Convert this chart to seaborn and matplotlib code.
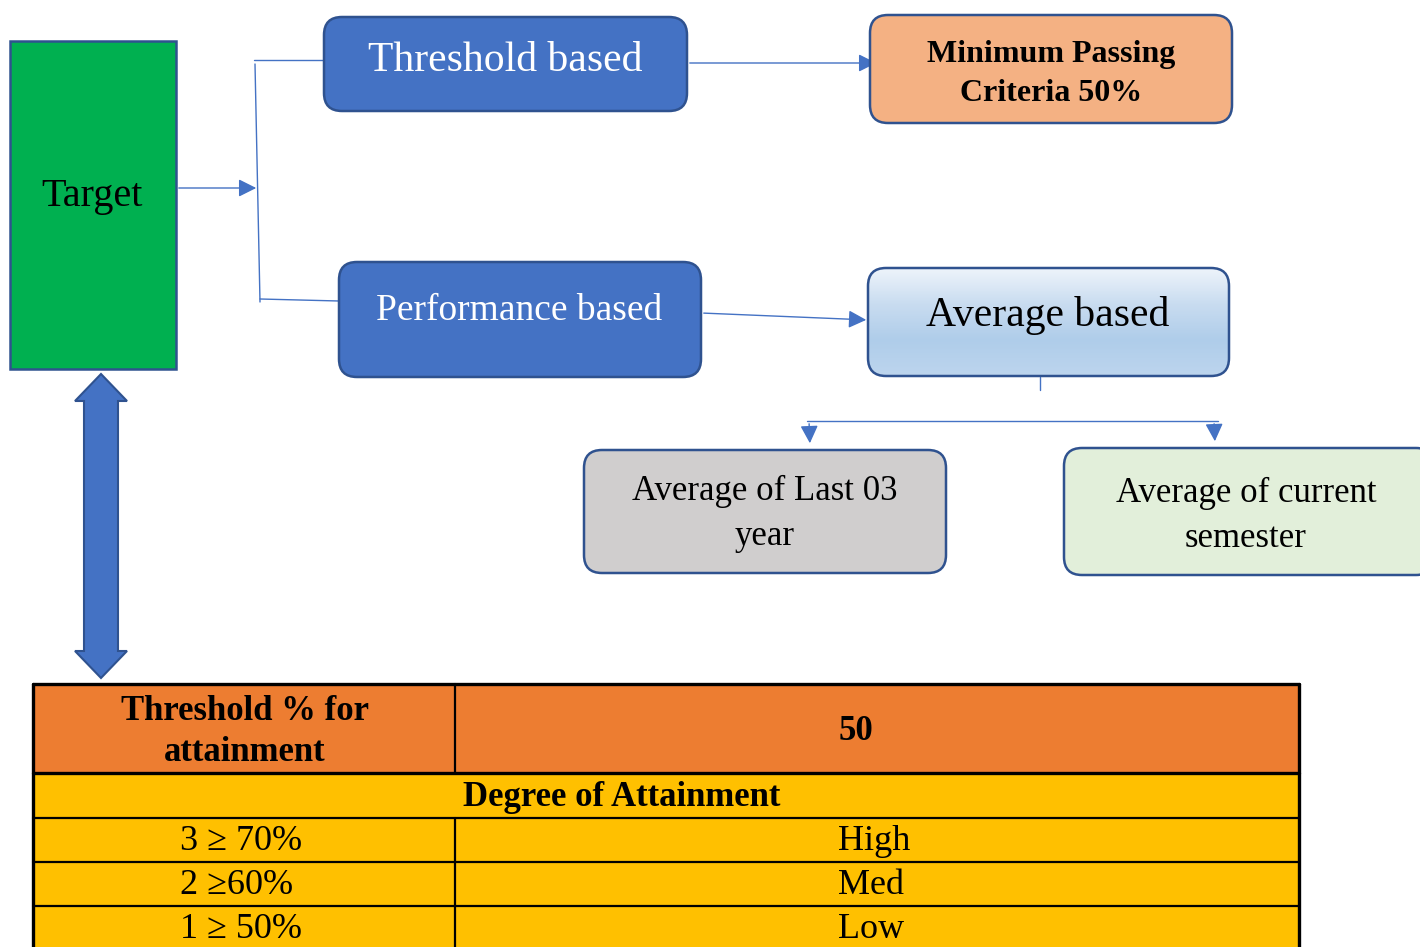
import numpy as np
import seaborn as sns
from matplotlib import pyplot as plt
from matplotlib import patches as mpatches

# flowchart node labels
node_labels = ["Target", "Threshold based", "Minimum Passing\nCriteria 50%",
               "Performance based", "Average based",
               "Average of Last 03\nyear", "Average of current\nsemester"]

# threshold table
header_left = "Threshold % for\nattainment"
header_value = "50"
table_title = "Degree of Attainment"
levels = ["3 \u2265 70%", "2 \u226560%", "1 \u2265 50%"]
degrees = ["High", "Med", "Low"]

sns.set_theme(style="white")
plt.rcParams['font.family'] = ['Liberation Serif', 'DejaVu Serif']
plt.rcParams['text.color'] = 'black'

BLUE = "#4472C4"
EDGE = "#2F528F"

fig = plt.figure(figsize=(14.2, 9.47), dpi=100)
ax = fig.add_axes([0, 0, 1, 1])
ax.set_xlim(0, 1420)
ax.set_ylim(947, 0)
ax.axis('off')

# box layout: x, y, w, h, fill, text colour, size, bold, text x, text y, rounded
layout = {
    "Target": (10, 41, 166, 328, "#00B050", "black", 29, False, 92, 196, False),
    "Threshold based": (324, 17, 363, 94, BLUE, "white", 30, False, 505, 61, True),
    "Minimum Passing\nCriteria 50%": (870, 15, 362, 108, "#F4B183", "black", 23, True, 1051, 74, True),
    "Performance based": (339, 262, 362, 115, BLUE, "white", 27, False, 519, 311, True),
    "Average based": (868, 268, 361, 108, None, "black", 30, False, 1048, 315, True),
    "Average of Last 03\nyear": (584, 450, 362, 123, "#D0CECE", "black", 25, False, 765, 514, True),
    "Average of current\nsemester": (1064, 448, 370, 127, "#E2EFDA", "black", 25, False, 1246, 516, True),
}

for label in node_labels:
    x, y, w, h, fill, tc, fs, bold, tx, ty, rounded = layout[label]
    style = "round,pad=0,rounding_size=18" if rounded else "square,pad=0"
    box = mpatches.FancyBboxPatch((x, y), w, h, boxstyle=style,
                                  facecolor=fill if fill else "none",
                                  edgecolor=EDGE, linewidth=1.8, zorder=3)
    ax.add_patch(box)
    if fill is None:
        grad = np.linspace(0, 1, 256).reshape(-1, 1)
        cmap = sns.blend_palette(["#EEF4FB", "#C9DCF0", "#AFCDEA", "#BDD5EE"], as_cmap=True)
        im = ax.imshow(grad, cmap=cmap, extent=(x, x + w, y + h, y),
                       aspect='auto', zorder=2)
        im.set_clip_path(box)
    ax.text(tx, ty, label, ha='center', va='center', color=tc, fontsize=fs,
            fontweight='bold' if bold else 'normal', linespacing=1.45, zorder=4)

# connectors
line_kw = dict(color=BLUE, linewidth=1.0, zorder=1)
ax.plot([254, 324], [60, 60], **line_kw)
ax.plot([255, 260], [64, 302], **line_kw)
ax.plot([260, 339], [299, 301], **line_kw)
ax.plot([1040, 1040], [377, 390], **line_kw)
ax.plot([807, 1218], [421, 421], **line_kw)

arrow_kw = dict(arrowstyle='-|>,head_length=0.9,head_width=0.45', color=BLUE,
                linewidth=1.0, mutation_scale=12)
for (x0, y0), (x1, y1) in [((176, 188), (259, 188)),
                           ((687, 63), (879, 63)),
                           ((701, 313), (869, 320)),
                           ((809, 421), (810, 446)),
                           ((1214, 421), (1215, 444))]:
    ax.annotate("", xy=(x1, y1), xytext=(x0, y0), arrowprops=arrow_kw, zorder=1)

# double block arrow between Target and the table
cx, top, bot, sw, hw, hl = 101, 374, 678, 17, 26, 27
arrow_pts = [(cx, top), (cx + hw, top + hl), (cx + sw, top + hl), (cx + sw, bot - hl),
             (cx + hw, bot - hl), (cx, bot), (cx - hw, bot - hl), (cx - sw, bot - hl),
             (cx - sw, top + hl), (cx - hw, top + hl)]
ax.add_patch(mpatches.Polygon(arrow_pts, closed=True, facecolor=BLUE,
                              edgecolor=EDGE, linewidth=1.5, zorder=3))

# table
tx0, tx1, tsplit = 33, 1299, 455
rows_y = [684, 773, 818, 862, 906, 950]
ax.add_patch(mpatches.Rectangle((tx0, rows_y[0]), tx1 - tx0, rows_y[1] - rows_y[0],
                                facecolor="#ED7D31", edgecolor='none', zorder=2))
ax.add_patch(mpatches.Rectangle((tx0, rows_y[1]), tx1 - tx0, rows_y[-1] - rows_y[1],
                                facecolor="#FFC000", edgecolor='none', zorder=2))
tl = dict(color='black', zorder=3)
ax.plot([tx0, tx1], [rows_y[0], rows_y[0]], linewidth=2.4, **tl)
ax.plot([tx0, tx1], [rows_y[1], rows_y[1]], linewidth=2.4, **tl)
for yy in rows_y[2:5]:
    ax.plot([tx0, tx1], [yy, yy], linewidth=1.6, **tl)
ax.plot([tx0, tx0], [rows_y[0], 947], linewidth=2.4, **tl)
ax.plot([tx1, tx1], [rows_y[0], 947], linewidth=2.4, **tl)
ax.plot([tsplit, tsplit], [rows_y[0], rows_y[1]], linewidth=1.6, **tl)
ax.plot([tsplit, tsplit], [rows_y[2], 947], linewidth=1.6, **tl)

ax.text(245, 732, header_left, ha='center', va='center', fontsize=25,
        fontweight='bold', linespacing=1.35, color='black', zorder=4)
ax.text(856, 731, header_value, ha='center', va='center', fontsize=25,
        fontweight='bold', color='black', zorder=4)
ax.text(622, 797, table_title, ha='center', va='center', fontsize=25,
        fontweight='bold', color='black', zorder=4)
for i, (lv, dg) in enumerate(zip(levels, degrees)):
    yc = (rows_y[i + 2] + rows_y[i + 3]) / 2 + 1
    ax.text(180, yc, lv, ha='left', va='center', fontsize=26, color='black', zorder=4)
    ax.text(838, yc, dg, ha='left', va='center', fontsize=26, color='black', zorder=4)

plt.savefig('out.png', dpi=100)
